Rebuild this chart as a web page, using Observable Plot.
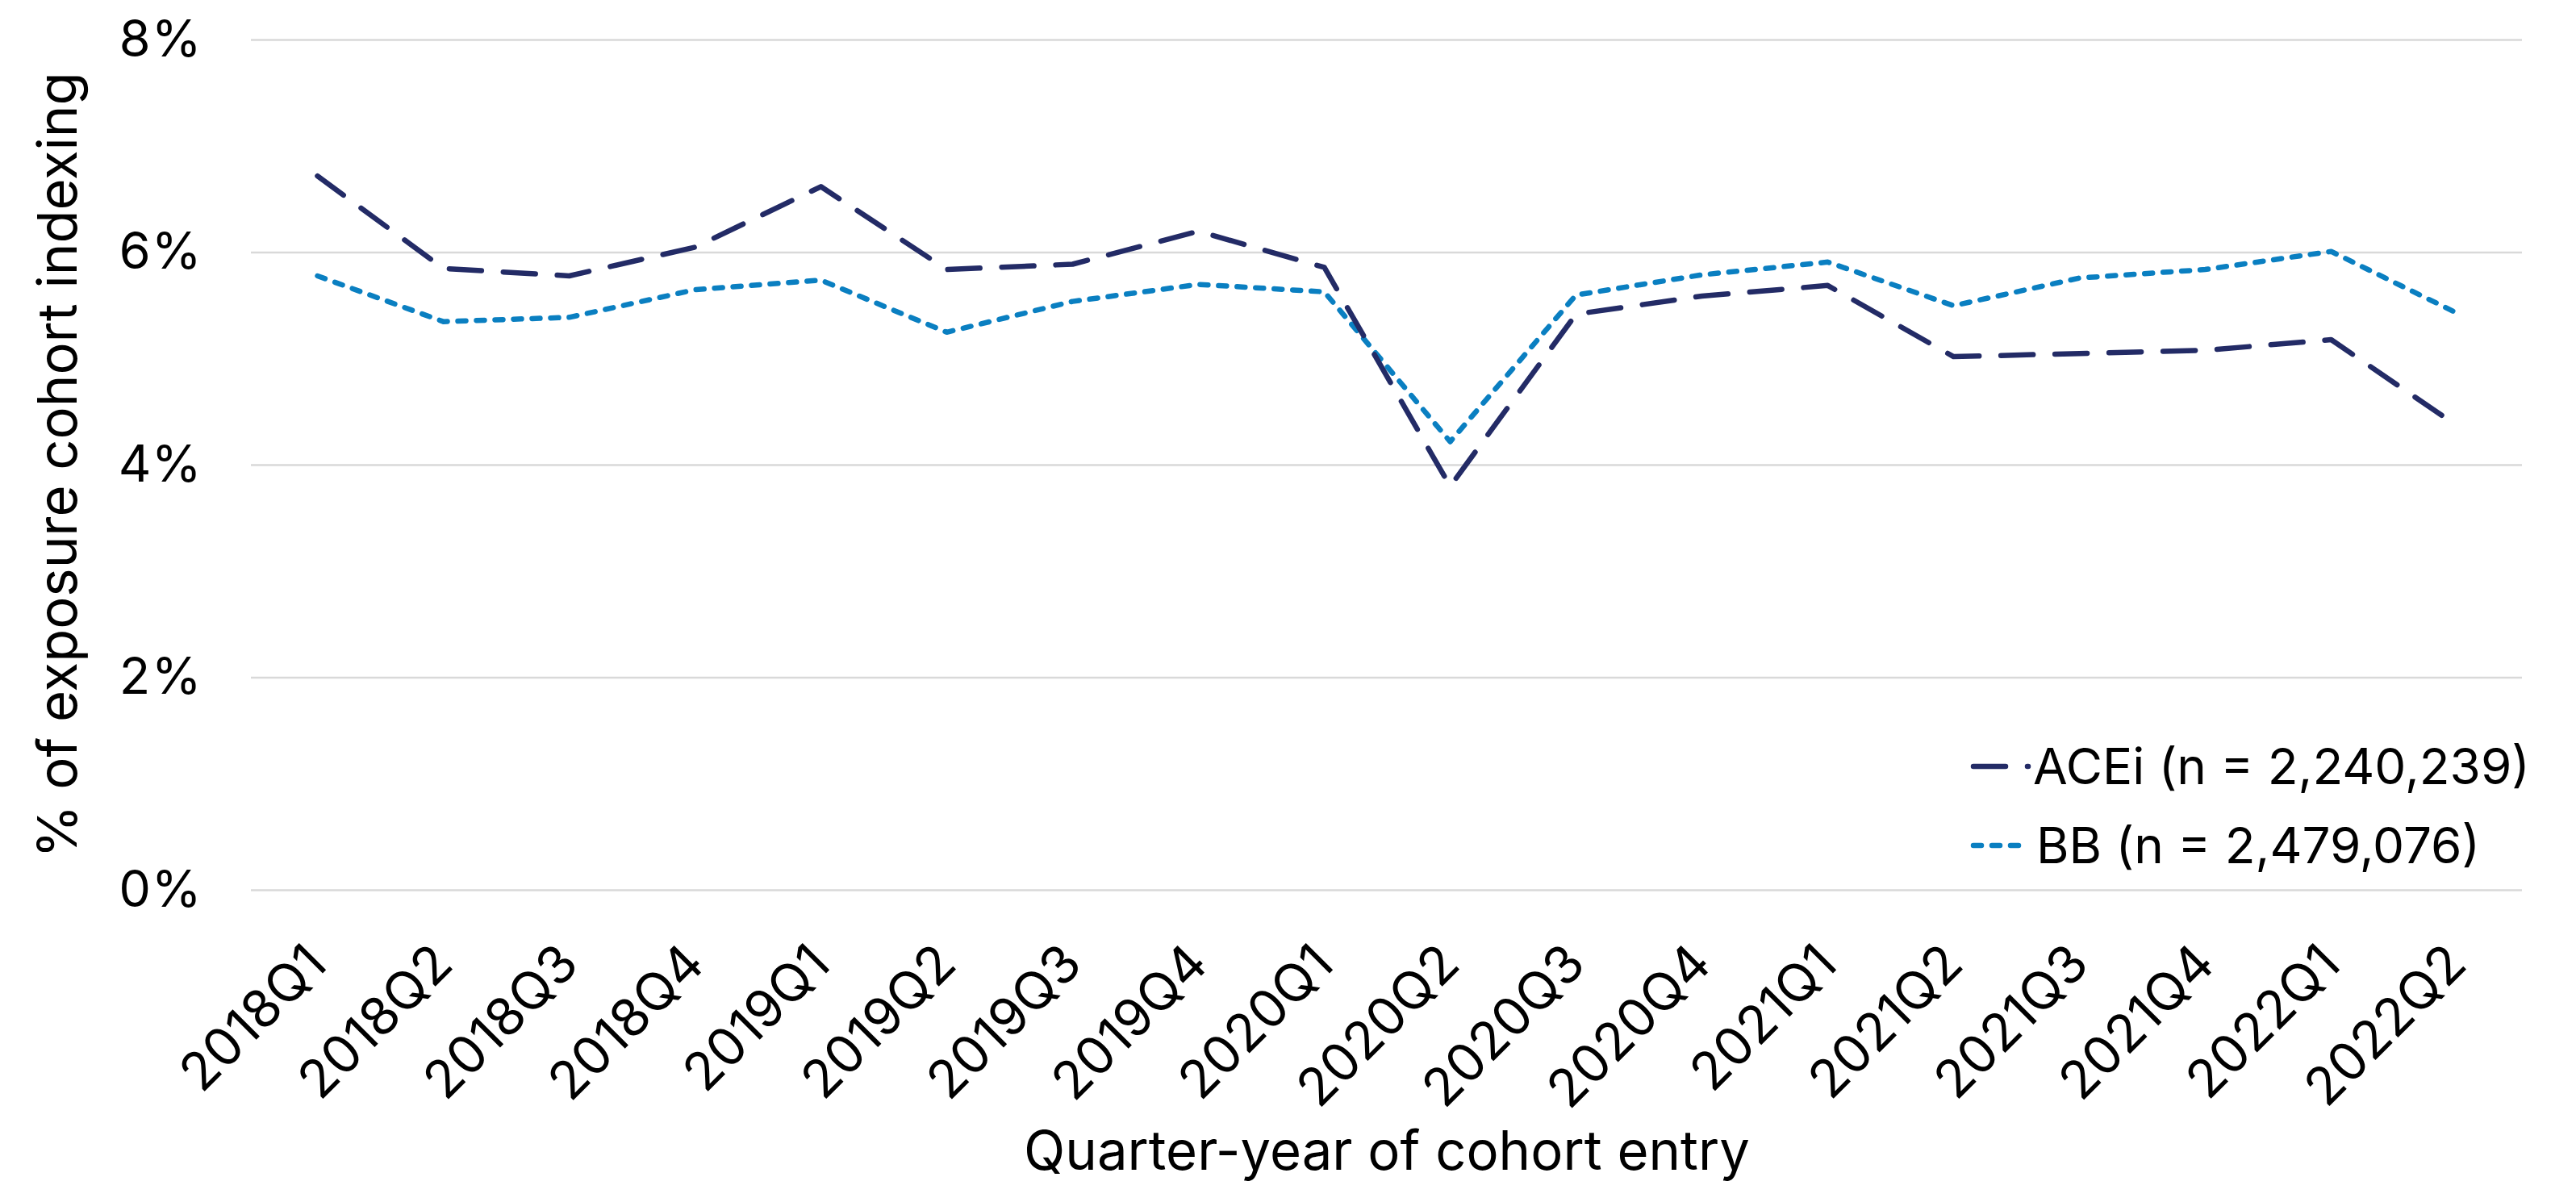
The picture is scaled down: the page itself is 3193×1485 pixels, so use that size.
<!DOCTYPE html>
<html>
<head>
<meta charset="utf-8">
<script src="https://cdn.jsdelivr.net/npm/d3@7"></script>
<script src="https://cdn.jsdelivr.net/npm/@observablehq/plot@0.6"></script>
<style>
  html, body { margin: 0; padding: 0; background: #ffffff; }
  #chart { position: relative; width: 3193px; height: 1485px; }
</style>
</head>
<body>
<div id="chart"></div>
<script>
// Quarter of cohort entry
const quarters = [
  "2018Q1", "2018Q2", "2018Q3", "2018Q4",
  "2019Q1", "2019Q2", "2019Q3", "2019Q4",
  "2020Q1", "2020Q2", "2020Q3", "2020Q4",
  "2021Q1", "2021Q2", "2021Q3", "2021Q4",
  "2022Q1", "2022Q2"
];

// % of exposure cohort indexing, per quarter
const aceiValues = [6.72, 5.85, 5.78, 6.05, 6.62, 5.84, 5.89, 6.20, 5.86, 3.80, 5.42, 5.59, 5.69, 5.02, 5.05, 5.08, 5.18, 4.37];
const bbValues   = [5.78, 5.35, 5.39, 5.65, 5.74, 5.25, 5.54, 5.70, 5.63, 4.22, 5.60, 5.79, 5.91, 5.50, 5.76, 5.84, 6.01, 5.43];

const seriesNames = ["ACEi (n = 2,240,239)", "BB (n = 2,479,076)"];
const yTicks = [0, 2, 4, 6, 8];

const aceiColor = "#232B66";
const bbColor = "#0A7FC1";
const aceiDash = "40 27";
const bbDash = "10 13";
const lineWidth = 6.5;

const acei = quarters.map((q, i) => ({quarter: q, value: aceiValues[i]}));
const bb = quarters.map((q, i) => ({quarter: q, value: bbValues[i]}));

const fontFamily = "Inter, 'Open Sans', sans-serif";

const chart = Plot.plot({
  width: 3193,
  height: 1485,
  marginLeft: 311,
  marginRight: 67,
  marginTop: 49,
  marginBottom: 382,
  style: {fontFamily, fontSize: "64px", color: "#000", background: "#fff"},
  x: {type: "point", domain: quarters, padding: 0.5},
  y: {domain: [0, 8]},
  marks: [
    Plot.gridY(yTicks, {stroke: "#D9D9D9", strokeOpacity: 1, strokeWidth: 2.5}),
    Plot.axisY(yTicks, {
      tickSize: 0, tickPadding: 62, tickFormat: d => d + "%", fontSize: 63, label: null
    }),
    Plot.axisY({
      ticks: [], tickSize: 0,
      label: "% of exposure cohort indexing", labelAnchor: "center", labelOffset: 264, labelArrow: "none",
      fontSize: 67
    }),
    Plot.axisX({
      tickSize: 0, tickPadding: 80, tickRotate: -45, fontSize: 65, label: null
    }),
    Plot.axisX({
      ticks: [], tickSize: 0,
      label: "Quarter-year of cohort entry", labelAnchor: "center", labelOffset: 346, labelArrow: "none",
      fontSize: 67
    }),
    Plot.line(bb, {x: "quarter", y: "value", stroke: bbColor, strokeWidth: lineWidth,
      strokeDasharray: bbDash, strokeLinecap: "round", strokeLinejoin: "round"}),
    Plot.line(acei, {x: "quarter", y: "value", stroke: aceiColor, strokeWidth: lineWidth,
      strokeDasharray: aceiDash, strokeLinecap: "round", strokeLinejoin: "round"})
  ]
});

document.getElementById("chart").appendChild(chart);

// Legend, drawn in the lower-right of the plot area
const svg = d3.select(chart);
const legend = svg.append("g")
  .attr("font-family", fontFamily)
  .attr("font-size", 62)
  .attr("text-anchor", "start");
const rows = [
  {name: seriesNames[0], color: aceiColor, dash: aceiDash, y: 950, x1: 2446, x2: 2514, tx: 2520},
  {name: seriesNames[1], color: bbColor, dash: bbDash, y: 1048, x1: 2446, x2: 2510, tx: 2524}
];
for (const r of rows) {
  legend.append("line")
    .attr("x1", r.x1).attr("x2", r.x2).attr("y1", r.y).attr("y2", r.y)
    .attr("stroke", r.color).attr("stroke-width", lineWidth)
    .attr("stroke-dasharray", r.dash).attr("stroke-linecap", "round");
  legend.append("text")
    .attr("x", r.tx).attr("y", r.y).attr("dy", "0.36em")
    .attr("fill", "#000")
    .text(r.name);
}
</script>
</body>
</html>
